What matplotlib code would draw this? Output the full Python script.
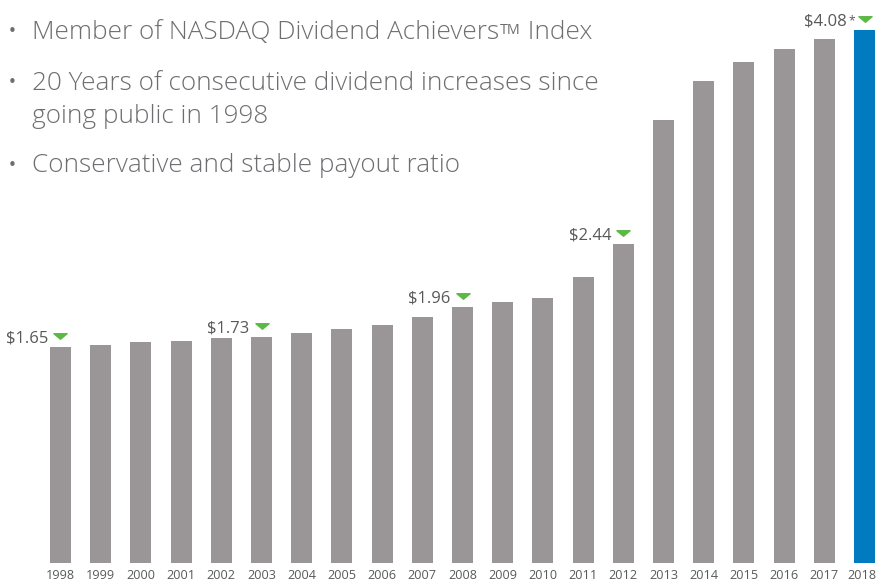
import matplotlib
matplotlib.use("Agg")
import matplotlib.pyplot as plt
import matplotlib.transforms as mtransforms
from matplotlib.path import Path
import numpy as np

years = [str(y) for y in range(1998, 2019)]
dividends = [1.65, 1.67, 1.69, 1.70, 1.72, 1.73, 1.76, 1.79, 1.82, 1.88,
             1.96, 2.00, 2.03, 2.19, 2.44, 3.39, 3.69, 3.83, 3.93, 4.01, 4.08]
callout_idx = [0, 5, 10, 14, 20]
callout_labels = ["$1.65", "$1.73", "$1.96", "$2.44", "$4.08"]
bullets = [
    ["Member of NASDAQ Dividend Achievers", "TM", " Index"],
    ["20 Years of consecutive dividend increases since", "going public in 1998"],
    ["Conservative and stable payout ratio"],
]

GRAY = "#9a9597"
BLUE = "#007bc0"
GREEN = "#5cb946"
TEXT = "#6d6e71"
LABEL = "#58595b"
FONT = "Open Sans"

plt.rcParams["font.family"] = [FONT, "DejaVu Sans"]

W, H = 877, 582
fig = plt.figure(figsize=(W / 100, H / 100), dpi=100)
base_px = 563
ax = fig.add_axes([0, (H - base_px) / H, 1, base_px / H])

spacing = 40.2
c0 = 60.5
ax.set_xlim(-c0 / spacing, (W - c0) / spacing)
ax.set_ylim(0, base_px / 130.7)

x = np.arange(len(years))
colors = [GRAY] * (len(years) - 1) + [BLUE]
ax.bar(x, dividends, width=21 / spacing, color=colors, linewidth=0)

for s in ax.spines.values():
    s.set_visible(False)
ax.set_yticks([])
ax.set_xticks(x, years)
ax.tick_params(axis="x", length=0, pad=4, labelsize=9.1, labelcolor=LABEL)
last = ax.get_xticklabels()[-1]
last.set_transform(last.get_transform() +
                   mtransforms.ScaledTranslation(-2.5 / 100, 0, fig.dpi_scale_trans))

# callout triangles and labels
tri = Path([(-1, 0.42), (1, 0.42), (0, -0.42), (-1, 0.42)],
           [Path.MOVETO, Path.LINETO, Path.LINETO, Path.CLOSEPOLY])
tr = mtransforms.offset_copy(ax.transData, fig=fig, x=0, y=11 * 0.72, units="points")
for i, lab in zip(callout_idx, callout_labels):
    ax.plot([x[i]], [dividends[i]], marker=tri, markersize=9.5, color=GREEN,
            transform=tr, linestyle="none", clip_on=False)
    dx = -(6.5 + 5.5) if i != 20 else -(6.5 + 4 + 7)
    t = ax.annotate(lab, xy=(x[i], dividends[i]), xycoords="data",
                    xytext=(dx * 0.72, 8.5 * 0.72),
                    textcoords="offset points", ha="right", va="center",
                    fontsize=12.0, color=LABEL, annotation_clip=False)
    t.set_parse_math(False)
    if i == 20:
        ax.annotate("*", xy=(1, 0.92), xycoords=t, xytext=(0.8, 0),
                    textcoords="offset points", ha="left", va="top",
                    fontsize=8.5, color=LABEL)

# bullet text
baselines = [39, 90, 123, 172]
text_x = 32 / W
bullet_x = 12 / W


def fy(py):
    return 1 - py / H


fs0 = 12.0
probe = fig.text(text_x, fy(baselines[1]), bullets[1][0], fontsize=fs0,
                 color=TEXT, va="baseline", ha="left", fontweight="light")
fig.canvas.draw()
wpx = probe.get_window_extent().width
fs = fs0 * 566.0 / wpx
probe.set_fontsize(fs)

t1 = fig.text(text_x, fy(baselines[0]), bullets[0][0], fontsize=fs, color=TEXT,
              va="baseline", ha="left", fontweight="light")
tm = ax.annotate(bullets[0][1], xy=(1, 1), xycoords=t1, xytext=(0.5, -2.5),
                 textcoords="offset points", ha="left", va="top",
                 fontsize=fs * 0.55, color=TEXT, annotation_clip=False)
ax.annotate(bullets[0][2], xy=(1, 0), xycoords=(tm, t1), xytext=(0, 0),
            textcoords="offset points", ha="left", va="bottom",
            fontsize=fs, color=TEXT, annotation_clip=False,
            fontweight="light")

fig.text(text_x, fy(baselines[2]), bullets[1][1], fontsize=fs, color=TEXT,
         va="baseline", ha="left", fontweight="light")
fig.text(text_x, fy(baselines[3]), bullets[2][0], fontsize=fs, color=TEXT,
         va="baseline", ha="left", fontweight="light")

for b in [baselines[0], baselines[1], baselines[3]]:
    fig.text(bullet_x, fy(b - 7), "\u2022", fontsize=11, color=TEXT,
             va="center", ha="center", family="DejaVu Sans")

fig.savefig("out.png", dpi=100)
